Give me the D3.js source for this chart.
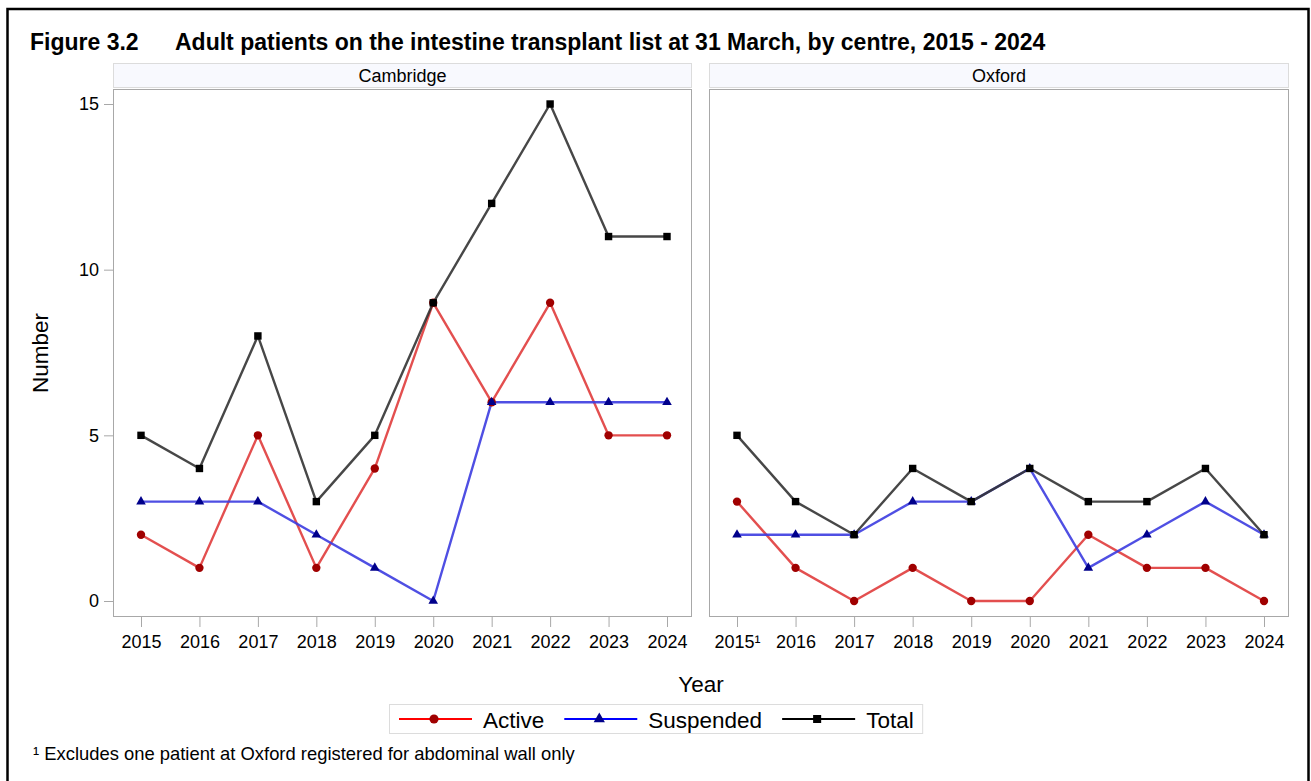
<!DOCTYPE html>
<html>
<head>
<meta charset="utf-8">
<script src="https://cdn.jsdelivr.net/npm/d3@7"></script>
<style>
  body { margin: 0; background: #fff; }
  svg { display: block; font-family: "Liberation Sans", Arial, sans-serif; }
</style>
</head>
<body>
<svg id="chart" width="1311" height="781"></svg>
<script>
// data
const years = [2015, 2016, 2017, 2018, 2019, 2020, 2021, 2022, 2023, 2024];
const centres = ["Cambridge", "Oxford"];
const cambActive    = [2, 1, 5, 1, 4, 9, 6, 9, 5, 5];
const cambSuspended = [3, 3, 3, 2, 1, 0, 6, 6, 6, 6];
const cambTotal     = [5, 4, 8, 3, 5, 9, 12, 15, 11, 11];
const oxActive      = [3, 1, 0, 1, 0, 0, 2, 1, 1, 0];
const oxSuspended   = [2, 2, 2, 3, 3, 4, 1, 2, 3, 2];
const oxTotal       = [5, 3, 2, 4, 3, 4, 3, 3, 4, 2];
const yTicks = [0, 5, 10, 15];
const oxTickLabels = ["2015¹", "2016", "2017", "2018", "2019", "2020", "2021", "2022", "2023", "2024"];

const seriesStyle = [
  { name: "Active",    line: "#e03c3c", legend: "#ff0000", mark: "#a00000", shape: d3.symbolCircle },
  { name: "Suspended", line: "#3c3ce0", legend: "#0000ff", mark: "#00008b", shape: d3.symbolTriangle },
  { name: "Total",     line: "#333333", legend: "#000000", mark: "#000000", shape: d3.symbolSquare }
];

const panelData = {
  Cambridge: [cambActive, cambSuspended, cambTotal],
  Oxford: [oxActive, oxSuspended, oxTotal]
};

const svg = d3.select("#chart");

// outer frame
svg.append("rect").attr("x", 7.5).attr("y", 9).attr("width", 1301).attr("height", 790)
  .attr("fill", "none").attr("stroke", "#000").attr("stroke-width", 2.5);

// title
svg.append("text").attr("x", 30).attr("y", 50)
  .attr("font-size", 23).attr("font-weight", "bold")
  .text("Figure 3.2");
svg.append("text").attr("x", 175).attr("y", 50)
  .attr("font-size", 23).attr("font-weight", "bold")
  .text("Adult patients on the intestine transplant list at 31 March, by centre, 2015 - 2024");

const plotTop = 89, plotBottom = 617, headTop = 63;
const panels = [
  { name: "Cambridge", x0: 113, x1: 692 },
  { name: "Oxford", x0: 709, x1: 1289 }
];

const y = d3.scaleLinear().domain([0, 15]).range([601, 104]);

panels.forEach((p, pi) => {
  const x = d3.scalePoint().domain(years).range([p.x0 + 28, p.x1 - 25]);
  const g = svg.append("g");

  // header strip
  g.append("rect").attr("x", p.x0 + 0.5).attr("y", headTop + 0.5)
    .attr("width", p.x1 - p.x0 - 1).attr("height", plotTop - headTop - 2)
    .attr("fill", "#f8f9fe").attr("stroke", "#dcdcdc");
  g.append("text").attr("x", (p.x0 + p.x1) / 2).attr("y", headTop + 18.5)
    .attr("text-anchor", "middle").attr("font-size", 18).text(p.name);

  // plot box
  g.append("rect").attr("x", p.x0 + 0.5).attr("y", plotTop + 0.5)
    .attr("width", p.x1 - p.x0 - 1).attr("height", plotBottom - plotTop - 1)
    .attr("fill", "none").attr("stroke", "#a8a8a8");

  // x axis
  const xa = g.append("g").attr("transform", `translate(0,${plotBottom})`)
    .call(d3.axisBottom(x).tickSize(10).tickPadding(8)
      .tickFormat((d, i) => p.name === "Oxford" ? oxTickLabels[i] : d));
  xa.select(".domain").remove();
  xa.selectAll("line").attr("stroke", "#a8a8a8");
  xa.selectAll("text").attr("font-size", 18).attr("fill", "#000")
    .attr("font-family", "Liberation Sans, Arial, sans-serif");

  // y axis on first panel only
  if (pi === 0) {
    const ya = g.append("g").attr("transform", `translate(${p.x0},0)`)
      .call(d3.axisLeft(y).tickValues(yTicks).tickSize(9).tickPadding(5));
    ya.select(".domain").remove();
    ya.selectAll("line").attr("stroke", "#a8a8a8");
    ya.selectAll("text").attr("font-size", 18).attr("fill", "#000")
      .attr("font-family", "Liberation Sans, Arial, sans-serif");
  }

  // lines
  const rows = panelData[p.name];
  rows.forEach((vals, si) => {
    const st = seriesStyle[si];
    const pts = years.map((yr, i) => [x(yr), y(vals[i])]);
    g.append("path").datum(pts)
      .attr("fill", "none").attr("stroke", st.line).attr("stroke-width", 2.4)
      .attr("stroke-opacity", 0.9).attr("stroke-linejoin", "round")
      .attr("d", d3.line());
  });
  rows.forEach((vals, si) => {
    const st = seriesStyle[si];
    const size = si === 0 ? 55 : si === 1 ? 40 : 55;
    g.selectAll(null).data(years).enter().append("path")
      .attr("transform", (yr, i) => `translate(${x(yr)},${y(vals[i])})`)
      .attr("d", d3.symbol().type(st.shape).size(size))
      .attr("fill", st.mark);
  });
});

// axis titles
svg.append("text").attr("x", 701).attr("y", 692).attr("text-anchor", "middle")
  .attr("font-size", 22.5).text("Year");
svg.append("text").attr("transform", "translate(48,353) rotate(-90)")
  .attr("text-anchor", "middle").attr("font-size", 22.5).text("Number");

// legend
const lg = svg.append("g");
const box = lg.append("rect").attr("x", 389.5).attr("y", 704.5).attr("height", 29)
  .attr("fill", "#fff").attr("stroke", "#dcdcdc");
let lx = 399;
seriesStyle.forEach((st, i) => {
  lg.append("line").attr("x1", lx).attr("x2", lx + 73).attr("y1", 719).attr("y2", 719)
    .attr("stroke", st.legend).attr("stroke-width", 2);
  lg.append("path").attr("transform", `translate(${lx + 35},719)`)
    .attr("d", d3.symbol().type(st.shape).size(i === 1 ? 55 : 65))
    .attr("fill", st.mark);
  const t = lg.append("text").attr("x", lx + 84).attr("y", 727.5).attr("font-size", 22.5).text(st.name);
  lx = lx + 84 + t.node().getComputedTextLength() + 20;
});
box.attr("width", lx - 20 + 9 - 389.5);

// footnote
svg.append("text").attr("x", 33).attr("y", 760).attr("font-size", 18.4)
  .text("¹ Excludes one patient at Oxford registered for abdominal wall only");
</script>
</body>
</html>
